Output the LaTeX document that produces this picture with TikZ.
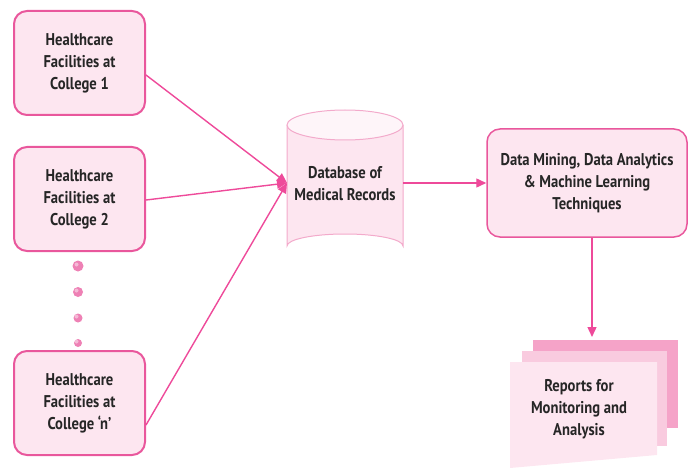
\documentclass[tikz,border=0pt]{standalone}
\usepackage{fontspec}
\setmainfont{PT Sans}[FakeStretch=0.86]
\usetikzlibrary{arrows.meta,calc}
\definecolor{edgepink}{HTML}{E9579C}
\definecolor{arrowpink}{HTML}{EE4A9A}
\definecolor{fillpink}{HTML}{FDE6F0}
\definecolor{cylpink}{HTML}{F3AACB}
\definecolor{sheetA}{HTML}{F5A3C8}
\definecolor{sheetB}{HTML}{F9CBDF}
\definecolor{txt}{HTML}{262626}
\tikzset{
  x=1pt, y=-1pt,
  facility/.style={draw=edgepink, line width=2pt, fill=fillpink, rounded corners=13pt,
    minimum width=131pt, minimum height=104pt, align=center, text=txt,
    font=\bfseries\fontsize{17}{22}\selectfont},
  label/.style={align=center, text=txt, font=\bfseries\fontsize{17}{22}\selectfont},
  flow/.style={draw=arrowpink, line width=1.4pt, -{Triangle[length=10pt,width=9pt]}},
  dot/.style={circle, inner sep=0pt, fill=edgepink!75,
    path picture={\fill[white, opacity=0.45] ([shift={(-1.5pt,1.5pt)}]path picture bounding box.center) circle[radius=2pt];}}
}
\begin{document}
\begin{tikzpicture}
\useasboundingbox (0,0) rectangle (688,468);

% source boxes
\node[facility] (b1) at (79.5,63) {Healthcare\\Facilities at\\College 1};
\node[facility] (b2) at (79.5,199) {Healthcare\\Facilities at\\College 2};
\node[facility] (b3) at (79.5,403) {Healthcare\\Facilities at\\College `n'};

% continuation dots
\node[dot, minimum size=11pt] (d1) at (78,266) {};
\node[dot, minimum size=10pt] (d2) at (78,292) {};
\node[dot, minimum size=9pt] (d3) at (78,318) {};
\node[dot, minimum size=8pt] (d4) at (78,343) {};

% database cylinder
\fill[fillpink] (287,125) -- (287,246) arc[start angle=180, end angle=360, x radius=58, y radius=12]
  -- (403,125) -- cycle;
\draw[cylpink, line width=1pt] (287,125) -- (287,246) arc[start angle=180, end angle=360, x radius=58, y radius=12]
  -- (403,125);
\draw[cylpink, line width=1pt, fill=fillpink!40] (345,125) ellipse[x radius=58, y radius=15];
\node[label, minimum width=116pt, minimum height=148pt] (db) at (345,184) {Database of\\Medical Records};

% analytics box
\node[facility, minimum width=200pt, minimum height=108pt, line width=1.5pt] (dm) at (587,183)
  {Data Mining, Data Analytics\\\& Machine Learning\\Techniques};

% stacked report sheets
\fill[sheetA] (533,340) rectangle (678,428);
\fill[sheetB] (522,351) rectangle (667,446);
\fill[fillpink] (510,362) -- (657,362) -- (657,455) -- (510,468) -- cycle;
\node[label] (rep) at (579,409) {Reports for\\Monitoring and\\Analysis};
\coordinate (reptop) at (592,337);

% connectors
\coordinate (dbin) at (287,183);
\draw[flow] ($(b1.east)+(0,12)$) -- (dbin);
\draw[flow] ($(b2.east)+(0,1)$) -- (dbin);
\draw[flow] ($(b3.east)+(0,22)$) -- (dbin);
\draw[flow] (403,183) -- (dm.west);
\draw[flow] (dm.south -| reptop) -- (reptop);
\end{tikzpicture}
\end{document}
